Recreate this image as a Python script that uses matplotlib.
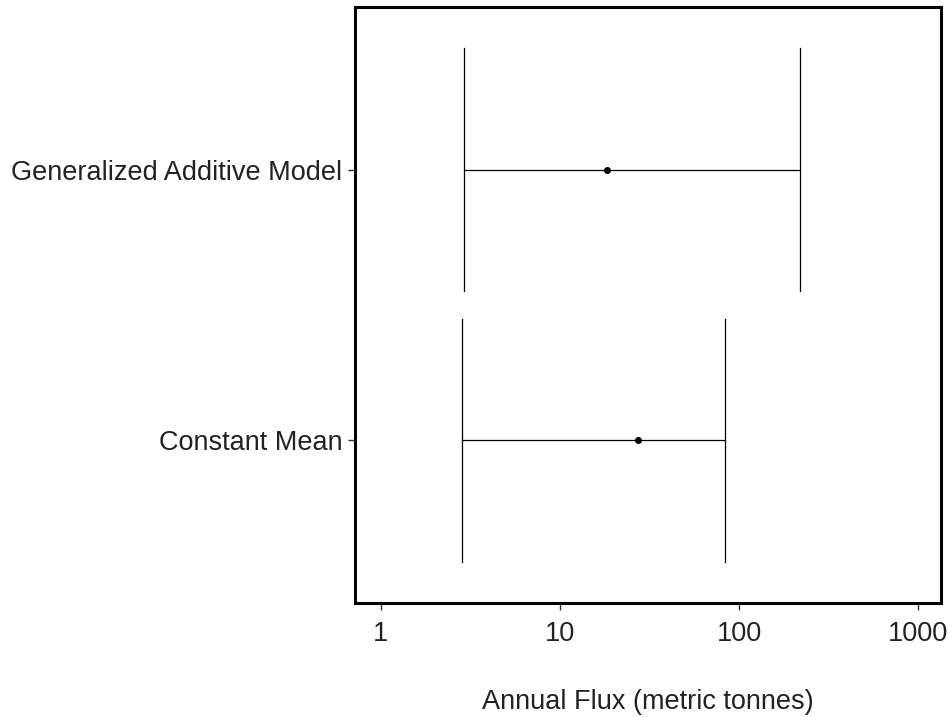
import matplotlib
matplotlib.use("Agg")
import matplotlib.pyplot as plt

models = ["Constant Mean", "Generalized Additive Model"]
estimate = [27.3, 18.3]
lower = [2.83, 2.91]
upper = [83.5, 219.0]
xticks = [1, 10, 100, 1000]
xticklabels = ["1", "10", "100", "1000"]

plt.rcParams['font.family'] = ['Liberation Sans', 'DejaVu Sans']

fig = plt.figure(figsize=(9.48, 7.17), dpi=100)
ax = fig.add_axes([355/948, 1-603/717, (941-355)/948, (603-7)/717])

cap = 0.45
for i, (m, e, lo, hi) in enumerate(zip(models, estimate, lower, upper)):
    y = i + 1
    ax.plot([lo, hi], [y, y], color='black', lw=0.9)
    ax.plot([lo, lo], [y - cap, y + cap], color='black', lw=0.9)
    ax.plot([hi, hi], [y - cap, y + cap], color='black', lw=0.9)
    ax.plot([e], [y], 'o', color='black', ms=4)

ax.set_xscale('log')
ax.set_xlim(0.716, 1343)
ax.set_ylim(0.4, 2.6)
ax.set_yticks([1, 2])
ax.set_yticklabels(models, fontsize=19.5, color='#222222')
ax.set_xticks(xticks)
ax.set_xticklabels(xticklabels, fontsize=19.5, color='#222222')
ax.minorticks_off()
ax.tick_params(axis='both', length=5, width=1, color='#333333')
ax.tick_params(axis='y', pad=4)
ax.tick_params(axis='x', pad=8)
for s in ax.spines.values():
    s.set_linewidth(2.2)
    s.set_color('black')
ax.set_xlabel("Annual Flux (metric tonnes)", fontsize=19.5, color='#222222', labelpad=30)

fig.savefig("out.png", dpi=100, facecolor='white')
